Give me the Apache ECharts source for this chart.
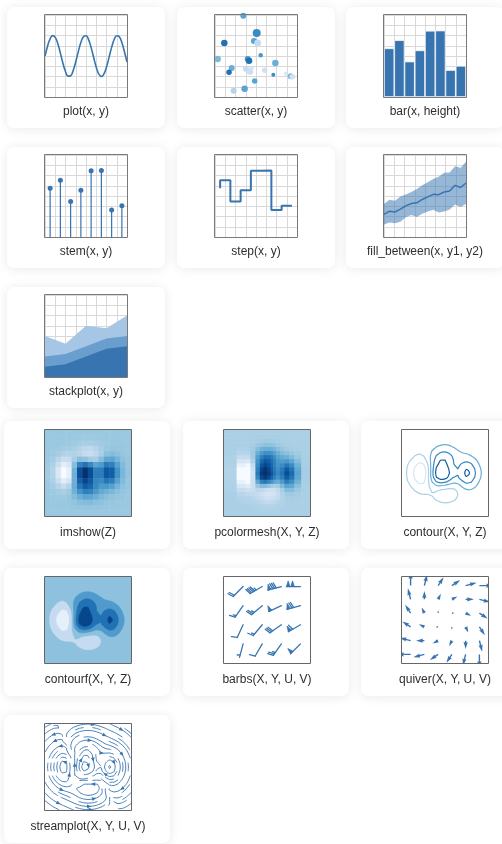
<!DOCTYPE html>
<html>
<head>
<meta charset="utf-8">
<title>plot types</title>
<script src="https://cdn.jsdelivr.net/npm/echarts@6/dist/echarts.min.js"></script>
<style>
  html, body { margin: 0; padding: 0; background: #fff; }
  #main { width: 502px; height: 844px; }
</style>
</head>
<body>
<div id="main"></div>
<script>
var lineX = [0, 0.25, 0.5, 0.75, 1, 1.25, 1.5, 1.75, 2, 2.25, 2.5, 2.75, 3, 3.25, 3.5, 3.75, 4,
  4.25, 4.5, 4.75, 5, 5.25, 5.5, 5.75, 6, 6.25, 6.5, 6.75, 7, 7.25, 7.5, 7.75, 8];
var lineY = [4.00, 4.96, 5.68, 5.99, 5.82, 5.20, 4.28, 3.30, 2.49, 2.04, 2.08, 2.59, 3.44, 4.43, 5.31, 5.88, 5.98,
  5.60, 4.82, 3.85, 2.91, 2.24, 2.00, 2.25, 2.93, 3.87, 4.84, 5.61, 5.98, 5.87, 5.30, 4.41, 3.42];

var scatterX = [2.76, 4.07, 0.91, 3.80, 4.16, 4.46, 0.26, 3.19, 3.32, 5.89, 1.63, 1.37, 3.02, 3.41, 3.58, 4.85, 5.69, 6.89, 7.38, 7.54, 3.87, 2.89, 1.82];
var scatterY = [7.93, 6.24, 5.27, 5.46, 5.27, 4.07, 3.71, 3.71, 3.54, 3.32, 2.83, 2.41, 2.76, 2.50, 2.83, 2.60, 2.18, 2.28, 2.02, 1.98, 1.56, 0.81, 0.62];
var scatterSize = [6, 8, 6.5, 6, 7, 4.5, 6.5, 6, 6.5, 6.5, 6, 5.5, 6, 6.5, 4, 5.5, 4, 4, 6, 5.5, 5.5, 6.5, 6];
var scatterShade = [55, 65, 75, 55, 25, 60, 45, 60, 75, 50, 50, 75, 25, 22, 18, 20, 65, 15, 45, 20, 55, 55, 30];

var barLabels = ['0.5', '1.5', '2.5', '3.5', '4.5', '5.5', '6.5', '7.5'];
var barHeight = [4.75, 5.54, 3.46, 4.55, 6.46, 6.48, 2.63, 3.04];

var fillX = [0, 0.53, 1.07, 1.6, 2.13, 2.67, 3.2, 3.73, 4.27, 4.8, 5.33, 5.87, 6.4, 6.93, 7.47, 8];
var fillUpper = [3.21, 3.63, 3.53, 3.95, 4.14, 4.38, 4.69, 5.04, 5.33, 5.67, 5.88, 6.28, 6.30, 6.91, 6.75, 7.34];
var fillLower = [1.21, 1.41, 1.34, 1.50, 1.93, 2.15, 1.96, 2.28, 2.50, 2.65, 2.38, 2.49, 2.68, 3.17, 2.92, 3.21];
var fillMid = [2.21, 2.52, 2.44, 2.72, 3.04, 3.27, 3.33, 3.66, 3.92, 4.16, 4.13, 4.39, 4.49, 5.04, 4.83, 5.27];

var stackX = [0, 2, 4, 6, 8];
var stackA = [1, 1.25, 2, 2.75, 3];
var stackB = [1, 1, 1, 1, 1];
var stackC = [2, 1, 2, 1, 2];

// imshow: 16 x 16 image, first row drawn at the top
var imshowTicks = ['-3.0', '-2.6', '-2.2', '-1.8', '-1.4', '-1.0', '-0.6', '-0.2', '0.2', '0.6', '1.0', '1.4', '1.8', '2.2', '2.6', '3.0'];
var imshowZ = [
  [0, 0, 0, 0, 0, 0, 0, 0, 0, 0, 0, 0, 0, 0, 0, 0],
  [0, 0, 0, 0, 0, -0.01, -0.01, -0.02, -0.02, -0.01, -0.01, 0, 0, 0, 0, 0],
  [0, 0, 0, -0.01, -0.02, -0.03, -0.05, -0.07, -0.07, -0.05, -0.03, -0.01, 0, 0, 0, 0],
  [0, -0.01, -0.02, -0.04, -0.05, -0.08, -0.13, -0.18, -0.19, -0.14, -0.06, 0, 0.02, 0.01, 0.01, 0],
  [0, -0.02, -0.06, -0.11, -0.13, -0.12, -0.15, -0.22, -0.25, -0.19, -0.07, 0.06, 0.09, 0.05, 0.02, 0],
  [-0.01, -0.05, -0.15, -0.26, -0.24, -0.07, 0.06, 0.04, -0.04, -0.06, 0.07, 0.24, 0.26, 0.15, 0.05, 0.01],
  [-0.02, -0.09, -0.27, -0.47, -0.38, 0.07, 0.49, 0.59, 0.46, 0.27, 0.33, 0.54, 0.51, 0.28, 0.10, 0.02],
  [-0.03, -0.13, -0.38, -0.64, -0.50, 0.17, 0.81, 1.01, 0.82, 0.52, 0.53, 0.77, 0.72, 0.39, 0.13, 0.03],
  [-0.03, -0.13, -0.38, -0.64, -0.50, 0.18, 0.82, 1.02, 0.84, 0.53, 0.53, 0.77, 0.72, 0.39, 0.13, 0.03],
  [-0.02, -0.09, -0.27, -0.46, -0.34, 0.18, 0.70, 0.88, 0.75, 0.48, 0.44, 0.58, 0.53, 0.29, 0.10, 0.02],
  [-0.01, -0.05, -0.14, -0.23, -0.14, 0.20, 0.57, 0.74, 0.67, 0.46, 0.34, 0.35, 0.29, 0.15, 0.05, 0.01],
  [0, -0.02, -0.05, -0.08, -0.02, 0.17, 0.39, 0.52, 0.49, 0.35, 0.22, 0.17, 0.12, 0.06, 0.02, 0],
  [0, -0.01, -0.01, -0.02, 0.01, 0.09, 0.19, 0.26, 0.25, 0.18, 0.11, 0.06, 0.04, 0.02, 0.01, 0],
  [0, 0, 0, 0, 0.01, 0.03, 0.07, 0.09, 0.09, 0.06, 0.04, 0.02, 0.01, 0, 0, 0],
  [0, 0, 0, 0, 0, 0.01, 0.02, 0.02, 0.02, 0.02, 0.01, 0, 0, 0, 0, 0],
  [0, 0, 0, 0, 0, 0, 0, 0, 0, 0, 0, 0, 0, 0, 0, 0]
];

// pcolormesh: uneven columns, rows bottom to top
var meshXCenters = [-3, -2, -1.6, -1.2, -0.8, -0.5, -0.2, 0.1, 0.3, 0.5, 0.8, 1.1, 1.5, 1.9, 2.3, 3];
var meshYCenters = [-3, -2.7, -2.4, -2.1, -1.8, -1.5, -1.2, -0.9, -0.6, -0.3, 0, 0.3, 0.6, 0.9, 1.2, 1.5, 1.8, 2.1, 2.4, 2.7, 3];
var meshZ = [
  [0, 0, 0, 0, 0, 0, 0, 0, 0, 0, 0, 0, 0, 0, 0, 0],
  [0, 0, 0, 0, -0.01, -0.01, -0.01, -0.01, -0.01, -0.01, -0.01, 0, 0, 0, 0, 0],
  [0, 0, 0, -0.01, -0.02, -0.03, -0.04, -0.04, -0.04, -0.03, -0.02, -0.01, 0, 0, 0, 0],
  [0, -0.01, -0.02, -0.03, -0.05, -0.08, -0.10, -0.10, -0.09, -0.08, -0.05, -0.03, 0, 0.01, 0, 0],
  [0, -0.03, -0.04, -0.06, -0.10, -0.14, -0.18, -0.19, -0.18, -0.15, -0.10, -0.04, 0.01, 0.02, 0.01, 0],
  [0, -0.06, -0.10, -0.11, -0.13, -0.18, -0.23, -0.25, -0.24, -0.21, -0.14, -0.04, 0.05, 0.06, 0.03, 0],
  [-0.01, -0.14, -0.19, -0.15, -0.08, -0.09, -0.14, -0.18, -0.19, -0.17, -0.10, 0.02, 0.15, 0.15, 0.07, 0.01],
  [-0.01, -0.25, -0.32, -0.17, 0.08, 0.17, 0.16, 0.10, 0.05, 0.02, 0.05, 0.18, 0.33, 0.29, 0.14, 0.01],
  [-0.02, -0.39, -0.48, -0.18, 0.31, 0.54, 0.59, 0.51, 0.41, 0.31, 0.26, 0.38, 0.56, 0.46, 0.23, 0.02],
  [-0.03, -0.50, -0.62, -0.20, 0.50, 0.85, 0.94, 0.84, 0.69, 0.54, 0.43, 0.55, 0.75, 0.61, 0.30, 0.03],
  [-0.03, -0.55, -0.67, -0.21, 0.57, 0.95, 1.06, 0.94, 0.78, 0.61, 0.49, 0.61, 0.83, 0.67, 0.32, 0.03],
  [-0.03, -0.50, -0.61, -0.19, 0.53, 0.89, 0.99, 0.88, 0.73, 0.58, 0.46, 0.57, 0.76, 0.61, 0.30, 0.03],
  [-0.02, -0.38, -0.46, -0.11, 0.47, 0.78, 0.88, 0.81, 0.68, 0.54, 0.42, 0.47, 0.59, 0.47, 0.23, 0.02],
  [-0.01, -0.24, -0.27, -0.02, 0.42, 0.67, 0.78, 0.74, 0.64, 0.52, 0.39, 0.37, 0.40, 0.31, 0.15, 0.01],
  [-0.01, -0.12, -0.13, 0.05, 0.35, 0.54, 0.64, 0.63, 0.56, 0.46, 0.33, 0.27, 0.24, 0.17, 0.08, 0.01],
  [0, -0.05, -0.04, 0.06, 0.25, 0.38, 0.45, 0.45, 0.41, 0.34, 0.24, 0.17, 0.12, 0.08, 0.04, 0],
  [0, -0.02, -0.01, 0.05, 0.14, 0.22, 0.26, 0.26, 0.24, 0.20, 0.14, 0.09, 0.06, 0.03, 0.01, 0],
  [0, 0, 0, 0.02, 0.07, 0.10, 0.12, 0.12, 0.11, 0.10, 0.07, 0.04, 0.02, 0.01, 0, 0],
  [0, 0, 0, 0.01, 0.02, 0.04, 0.05, 0.05, 0.04, 0.04, 0.02, 0.02, 0.01, 0, 0, 0],
  [0, 0, 0, 0, 0.01, 0.01, 0.01, 0.01, 0.01, 0.01, 0.01, 0, 0, 0, 0, 0],
  [0, 0, 0, 0, 0, 0, 0, 0, 0, 0, 0, 0, 0, 0, 0, 0]
];

// field behind contour / contourf / streamplot, rows bottom to top
var fieldAxis = [-3, -2.7, -2.4, -2.1, -1.8, -1.5, -1.2, -0.9, -0.6, -0.3, 0, 0.3, 0.6, 0.9, 1.2, 1.5, 1.8, 2.1, 2.4, 2.7, 3];
var fieldZ = [
  [-4.07e-6, -1.42e-5, -4.06e-5, -9.87e-5, -2.13e-4, -4.27e-4, -8.15e-4, -1.43e-3, -2.22e-3, -2.91e-3, -3.21e-3, -2.95e-3, -2.26e-3, -1.42e-3, -7.05e-4, -2.49e-4, -3.86e-5, 2.07e-5, 2.04e-5, 9.8e-6, 3.28e-6],
  [-2.2e-5, -7.5e-5, -2.09e-4, -4.85e-4, -9.81e-4, -1.84e-3, -3.33e-3, -5.72e-3, -8.79e-3, -1.157e-2, -1.276e-2, -1.175e-2, -9.01e-3, -5.63e-3, -2.72e-3, -8.52e-4, -1.81e-5, 1.75e-4, 1.29e-4, 5.76e-5, 1.87e-5],
  [-9.9e-5, -3.33e-4, -9.05e-4, -2.01e-3, -3.80e-3, -6.53e-3, -1.097e-2, -1.815e-2, -2.766e-2, -3.645e-2, -4.035e-2, -3.730e-2, -2.864e-2, -1.776e-2, -8.15e-3, -1.98e-3, 6.40e-4, 1.03e-3, 6.51e-4, 2.78e-4, 8.9e-5],
  [-3.75e-4, -1.248e-3, -3.318e-3, -7.093e-3, -1.2494e-2, -1.9342e-2, -2.921e-2, -4.541e-2, -6.813e-2, -9.007e-2, -0.10035, -9.335e-2, -7.190e-2, -4.389e-2, -1.834e-2, -1.813e-3, 4.634e-3, 4.655e-3, 2.686e-3, 1.112e-3, 3.50e-4],
  [-1.191e-3, -3.931e-3, -1.0271e-2, -2.1231e-2, -3.5013e-2, -4.8196e-2, -6.2347e-2, -8.664e-2, -0.125967, -0.167664, -0.18924, -0.178229, -0.138099, -8.1745e-2, -2.7315e-2, 8.301e-3, 2.0191e-2, 1.6633e-2, 9.078e-3, 3.674e-3, 1.1435e-3],
  [-3.172e-3, -1.0404e-2, -2.6828e-2, -5.3997e-2, -8.4094e-2, -0.102417, -0.106441, -0.117946, -0.158307, -0.214537, -0.2503, -0.242974, -0.19096, -0.104771, -0.01215, 4.9643e-2, 6.4489e-2, 4.7914e-2, 2.5251e-2, 1.0065e-2, 3.1097e-3],
  [-0.00708, -0.02312, -0.05907, -0.11663, -0.174, -0.189, -0.147, -0.092, -0.084, -0.126, -0.173, -0.190, -0.157, -0.062, 0.065, 0.153, 0.160, 0.11243, 0.05798, 0.02289, 0.00704],
  [-0.013245, -0.04311, -0.110, -0.214, -0.309, -0.308, -0.170, 0.026, 0.153, 0.170, 0.121, 0.050, 0.015, 0.081, 0.228, 0.334, 0.318, 0.217, 0.110, 0.04329, 0.013271],
  [-0.020727, -0.067, -0.171, -0.331, -0.470, -0.446, -0.183, 0.200, 0.490, 0.594, 0.547, 0.406, 0.274, 0.287, 0.442, 0.561, 0.513, 0.344, 0.174, 0.068, 0.020856],
  [-0.027128, -0.088, -0.223, -0.431, -0.609, -0.566, -0.198, 0.339, 0.762, 0.936, 0.889, 0.689, 0.479, 0.453, 0.619, 0.753, 0.679, 0.453, 0.229, 0.089, 0.027344],
  [-0.02968, -0.096, -0.244, -0.471, -0.666, -0.616, -0.210, 0.382, 0.853, 1.049, 1.000, 0.779, 0.543, 0.507, 0.684, 0.827, 0.744, 0.496, 0.250, 0.098, 0.02992],
  [-0.027122, -0.088, -0.223, -0.430, -0.607, -0.560, -0.186, 0.361, 0.796, 0.981, 0.939, 0.735, 0.513, 0.475, 0.631, 0.758, 0.681, 0.453, 0.229, 0.089, 0.027347],
  [-0.02069, -0.067, -0.170, -0.327, -0.459, -0.414, -0.111, 0.334, 0.700, 0.870, 0.848, 0.681, 0.484, 0.421, 0.513, 0.593, 0.525, 0.348, 0.175, 0.068, 0.020894],
  [-0.013165, -0.043, -0.108, -0.206, -0.284, -0.240, -0.017, 0.314, 0.606, 0.763, 0.769, 0.643, 0.468, 0.370, 0.381, 0.402, 0.344, 0.224, 0.112, 0.044, 0.013351],
  [-0.00698, -0.023, -0.057, -0.107, -0.142, -0.103, 0.047, 0.273, 0.488, 0.623, 0.646, 0.559, 0.414, 0.302, 0.259, 0.239, 0.192, 0.122, 0.061, 0.024, 0.007139],
  [-3.084e-3, -9.918e-3, -2.4587e-2, -4.5353e-2, -5.6236e-2, -2.7435e-2, 6.2089e-2, 0.198556, 0.338035, 0.435625, 0.4611, 0.407188, 0.305382, 0.211731, 0.15638, 0.124625, 9.2347e-2, 5.6558e-2, 2.7492e-2, 1.0551e-2, 3.1975e-3],
  [-1.134e-3, -3.619e-3, -8.83e-3, -1.568e-2, -1.7125e-2, -5.0e-5, 4.587e-2, 0.11659, 0.19274, 0.24981, 0.26756, 0.23924, 0.18061, 0.12149, 8.09e-2, 5.645e-2, 3.808e-2, 2.218e-2, 1.052e-2, 3.986e-3, 1.2e-3],
  [-3.47e-4, -1.095e-3, -2.609e-3, -4.359e-3, -3.683e-3, 4.373e-3, 2.4095e-2, 5.470e-2, 8.885e-2, 0.11556, 0.12465, 0.11228, 8.509e-2, 5.622e-2, 3.496e-2, 2.190e-2, 1.3446e-2, 7.388e-3, 3.394e-3, 1.265e-3, 3.77e-4],
  [-8.8e-5, -2.74e-4, -6.31e-4, -9.56e-4, -3.94e-4, 2.64e-3, 9.64e-3, 2.056e-2, 3.304e-2, 4.306e-2, 4.665e-2, 4.221e-2, 3.206e-2, 2.095e-2, 1.246e-2, 7.19e-3, 4.05e-3, 2.09e-3, 9.25e-4, 3.38e-4, 9.96e-5],
  [-1.86e-5, -5.66e-5, -1.24e-4, -1.59e-4, 7.2e-5, 9.96e-4, 3.04e-3, 6.24e-3, 9.96e-3, 1.300e-2, 1.412e-2, 1.282e-2, 9.75e-3, 6.33e-3, 3.65e-3, 1.98e-3, 1.03e-3, 5.02e-4, 2.13e-4, 7.6e-5, 2.21e-5],
  [-3.25e-6, -9.6e-6, -1.96e-5, -1.77e-5, 4.83e-5, 2.75e-4, 7.63e-4, 1.53e-3, 2.43e-3, 3.17e-3, 3.45e-3, 3.14e-3, 2.39e-3, 1.54e-3, 8.73e-4, 4.53e-4, 2.22e-4, 1.02e-4, 4.14e-5, 1.44e-5, 4.1e-6]
];
var contourLevels = [-0.69, -0.3983, -0.1067, 0.185, 0.4767, 0.7683, 1.06];
var streamLevels = [-0.5505, -0.4005, -0.2505, -0.1305, -0.0605, -0.0255, -0.01005, -0.00355, -0.001205,
  -4.05e-4, -1.305e-4, -4.05e-5, -1.305e-5,
  1.305e-5, 4.05e-5, 1.305e-4, 4.05e-4, 0.001205, 0.00355, 0.01005, 0.0255, 0.0605, 0.1205,
  0.2205, 0.3505, 0.5005, 0.6505, 0.8005, 0.9505];

var barbPos = [1, 2, 3, 4];
var barbAngle = [[15, 30, 35, 45], [25, 40, 55, 60], [35, 50, 65, 75], [45, 60, 75, 90]];
var barbSpeed = [[5, 10, 25, 50], [10, 15, 30, 60], [15, 26, 50, 70], [20, 45, 80, 100]];

var quiverPos = [-4, -2.4, -0.8, 0.8, 2.4, 4];
var quiverU = [
  [-8, -6.4, -4.8, -3.2, -1.6, 0],
  [-6.4, -4.8, -3.2, -1.6, 0, 1.6],
  [-4.8, -3.2, -1.6, 0, 1.6, 3.2],
  [-3.2, -1.6, 0, 1.6, 3.2, 4.8],
  [-1.6, 0, 1.6, 3.2, 4.8, 6.4],
  [0, 1.6, 3.2, 4.8, 6.4, 8]
];
var quiverV = [
  [0, -1.6, -3.2, -4.8, -6.4, -8],
  [1.6, 0, -1.6, -3.2, -4.8, -6.4],
  [3.2, 1.6, 0, -1.6, -3.2, -4.8],
  [4.8, 3.2, 1.6, 0, -1.6, -3.2],
  [6.4, 4.8, 3.2, 1.6, 0, -1.6],
  [8, 6.4, 4.8, 3.2, 1.6, 0]
];
var quiverScale = 5;

// ---- styling ----
var C0 = '#3874b0', C1 = '#6a9ecf', C2 = '#a6c6e5';
var BLUES = ['#f7fbff', '#deebf7', '#c6dbef', '#9ecae1', '#6baed6', '#4292c6', '#2171b5', '#08519c', '#08306b'];
var LABEL_FONT = '12px "Liberation Sans", Arial, sans-serif';

var cardsSmall = [[7, 7], [177, 7], [346, 7], [7, 147], [177, 147], [346, 147], [7, 287]];
var cardsBig = [[4, 421], [183, 421], [361, 421], [4, 568], [183, 568], [361, 568], [4, 715]];

function hexRgb(h) { var n = parseInt(h.slice(1), 16); return [(n >> 16) & 255, (n >> 8) & 255, n & 255]; }
function bluesAt(t) {
  t = Math.max(0, Math.min(1, t));
  var p = t * (BLUES.length - 1), i = Math.min(BLUES.length - 2, Math.floor(p)), f = p - i;
  var a = hexRgb(BLUES[i]), b = hexRgb(BLUES[i + 1]);
  return 'rgb(' + [0, 1, 2].map(function (k) { return Math.round(a[k] + (b[k] - a[k]) * f); }).join(',') + ')';
}

var option = {
  animation: false,
  backgroundColor: '#ffffff',
  grid: [], xAxis: [], yAxis: [], series: [], visualMap: [],
  graphic: { elements: [] }
};
var G = option.graphic.elements;

function panel(card, big, label, gridExtra) {
  var cw = big ? 166 : 158, ch = big ? 128 : 121;
  var ox = big ? 41 : 38, oy = big ? 9 : 8, size = big ? 86 : 82, ly = big ? 112 : 105;
  var gx = card[0] + ox, gy = card[1] + oy;
  G.push({ type: 'rect', silent: true, z: -5,
    shape: { x: card[0], y: card[1], width: cw, height: ch, r: 7 },
    style: { fill: '#fff', shadowBlur: 12, shadowColor: 'rgba(0,0,0,0.09)', shadowOffsetY: 1 } });
  G.push({ type: 'rect', silent: true, z: 60,
    shape: { x: gx - 0.5, y: gy - 0.5, width: size + 1, height: size + 1 },
    style: { fill: 'none', stroke: big ? '#666' : '#7a7a7a', lineWidth: 1 } });
  G.push({ type: 'text', silent: true, z: 60, x: gx + size / 2, y: card[1] + ly,
    style: { text: label, fill: '#2e2e2e', font: LABEL_FONT,
      align: 'center', verticalAlign: 'middle', textAlign: 'center', textVerticalAlign: 'middle' } });
  var g = { left: gx, top: gy, width: size, height: size };
  if (gridExtra) for (var k in gridExtra) g[k] = gridExtra[k];
  option.grid.push(g);
  return option.grid.length - 1;
}

function valueAxis(gi, min, max, step) {
  var a = { type: 'value', gridIndex: gi, min: min, max: max,
    axisLine: { show: false }, axisTick: { show: false }, axisLabel: { show: false },
    splitLine: { show: !!step, lineStyle: { color: '#d9d9d9', width: 1 } } };
  if (step) a.interval = step;
  return a;
}
function categoryAxis(gi, data, inverse, split) {
  return { type: 'category', gridIndex: gi, data: data, inverse: !!inverse,
    axisLine: { show: false }, axisTick: { show: false }, axisLabel: { show: false },
    splitLine: { show: !!split, interval: 0, lineStyle: { color: '#d9d9d9', width: 1 } } };
}
function addAxes(xa, ya) { option.xAxis.push(xa); option.yAxis.push(ya); }
function addSeries(s, gi) {
  s.xAxisIndex = gi; s.yAxisIndex = gi; s.silent = true;
  option.series.push(s);
  return option.series.length - 1;
}

// marching squares over a field; segments keep larger values on their right
function traceContours(z, xs, ys, level) {
  var segs = [];
  var ends = [[0, 1], [1, 2], [3, 2], [0, 3]];
  function shared(e1, e2) {
    var a = Math.min(e1, e2), b = Math.max(e1, e2);
    if (a === 0 && b === 1) return 1;
    if (a === 1 && b === 2) return 2;
    if (a === 2 && b === 3) return 3;
    return 0;
  }
  for (var j = 0; j < ys.length - 1; j++) {
    for (var i = 0; i < xs.length - 1; i++) {
      var cs = [[i, j], [i + 1, j], [i + 1, j + 1], [i, j + 1]];
      var up = cs.map(function (c) { return z[c[1]][c[0]] > level; });
      var keys = ['h' + i + '_' + j, 'v' + (i + 1) + '_' + j, 'h' + i + '_' + (j + 1), 'v' + i + '_' + j];
      var hit = [];
      for (var e = 0; e < 4; e++) if (up[ends[e][0]] !== up[ends[e][1]]) hit.push(e);
      var pairs = [];
      if (hit.length === 2) pairs.push(hit);
      else if (hit.length === 4) {
        var mean = (z[j][i] + z[j][i + 1] + z[j + 1][i + 1] + z[j + 1][i]) / 4;
        if ((mean > level) === up[0]) { pairs.push([0, 1]); pairs.push([2, 3]); }
        else { pairs.push([3, 0]); pairs.push([1, 2]); }
      }
      pairs.forEach(function (pr) {
        var pts = pr.map(function (e) {
          var ca = cs[ends[e][0]], cb = cs[ends[e][1]];
          var za = z[ca[1]][ca[0]], zb = z[cb[1]][cb[0]], t = (level - za) / (zb - za);
          return [xs[ca[0]] + t * (xs[cb[0]] - xs[ca[0]]), ys[ca[1]] + t * (ys[cb[1]] - ys[ca[1]])];
        });
        var ci = shared(pr[0], pr[1]), rc = cs[ci];
        var cr = (pts[1][0] - pts[0][0]) * (ys[rc[1]] - pts[0][1]) - (pts[1][1] - pts[0][1]) * (xs[rc[0]] - pts[0][0]);
        var seg = { ka: keys[pr[0]], kb: keys[pr[1]], pa: pts[0], pb: pts[1] };
        if ((up[ci] && cr > 0) || (!up[ci] && cr < 0)) seg = { ka: keys[pr[1]], kb: keys[pr[0]], pa: pts[1], pb: pts[0] };
        segs.push(seg);
      });
    }
  }
  var byStart = {}, byEnd = {};
  segs.forEach(function (s, k) { byStart[s.ka] = k; byEnd[s.kb] = k; });
  var used = [], paths = [];
  for (var k = 0; k < segs.length; k++) {
    if (used[k]) continue;
    var s0 = k, guard = 0;
    while (guard++ < segs.length) {
      var p = byEnd[segs[s0].ka];
      if (p === undefined || used[p] || p === k) break;
      s0 = p;
    }
    var pts = [segs[s0].pa], cur = s0, closed = false;
    while (cur !== undefined && !used[cur]) {
      used[cur] = true;
      pts.push(segs[cur].pb);
      cur = byStart[segs[cur].kb];
      if (cur === s0) { closed = true; break; }
    }
    paths.push({ pts: pts, closed: closed });
  }
  return paths;
}

function pathShape(api, path, fill, stroke, lw, z2) {
  var pts = path.pts.map(function (p) { return api.coord(p); });
  if (path.closed) {
    pts.pop();
    return { type: 'polygon', z2: z2 || 0, shape: { points: pts, smooth: 0.35 },
      style: { fill: fill || 'none', stroke: stroke || 'none', lineWidth: lw || 0 } };
  }
  return { type: 'polyline', z2: z2 || 0, shape: { points: pts, smooth: 0.35 },
    style: { fill: 'none', stroke: stroke, lineWidth: lw } };
}

var g;

// plot(x, y)
g = panel(cardsSmall[0], false, 'plot(x, y)');
addAxes(valueAxis(g, 0, 8, 1), valueAxis(g, 0, 8, 1));
addSeries({ type: 'line', data: lineX.map(function (x, i) { return [x, lineY[i]]; }),
  smooth: true, symbol: 'none', lineStyle: { color: C0, width: 1.6 } }, g);

// scatter(x, y)
g = panel(cardsSmall[1], false, 'scatter(x, y)');
addAxes(valueAxis(g, 0, 8, 1), valueAxis(g, 0, 8, 1));
var scatterIdx = addSeries({ type: 'scatter',
  data: scatterX.map(function (x, i) { return [x, scatterY[i], scatterSize[i], scatterShade[i]]; }),
  symbolSize: function (v) { return v[2]; }, itemStyle: { opacity: 1 } }, g);
option.visualMap.push({ type: 'continuous', show: false, seriesIndex: scatterIdx, dimension: 3,
  min: 0, max: 100, inRange: { color: BLUES } });

// bar(x, height)
g = panel(cardsSmall[2], false, 'bar(x, height)');
addAxes(categoryAxis(g, barLabels, false, true), valueAxis(g, 0, 8, 1));
addSeries({ type: 'bar', data: barHeight, barCategoryGap: '0%',
  itemStyle: { color: C0, borderColor: '#ffffff', borderWidth: 0.7 } }, g);

// stem(x, y)
g = panel(cardsSmall[3], false, 'stem(x, y)');
addAxes(categoryAxis(g, barLabels, false, true), valueAxis(g, 0, 8, 1));
addSeries({ type: 'bar', data: barHeight, barWidth: 1.2, itemStyle: { color: C0 } }, g);
addSeries({ type: 'scatter', data: barHeight, symbolSize: 5, itemStyle: { color: C0, opacity: 1 } }, g);

// step(x, y)
g = panel(cardsSmall[4], false, 'step(x, y)');
addAxes(categoryAxis(g, barLabels, false, true), valueAxis(g, 0, 8, 1));
addSeries({ type: 'line', data: barHeight, step: 'start', symbol: 'none',
  lineStyle: { color: C0, width: 2 } }, g);

// fill_between(x, y1, y2)
g = panel(cardsSmall[5], false, 'fill_between(x, y1, y2)');
addAxes(valueAxis(g, 0, 8, 1), valueAxis(g, 0, 8, 1));
addSeries({ type: 'custom', clip: true, data: [[fillX[0], fillLower[0]]],
  renderItem: function (params, api) {
    var pts = [];
    for (var i = 0; i < fillX.length; i++) pts.push(api.coord([fillX[i], fillUpper[i]]));
    for (var k = fillX.length - 1; k >= 0; k--) pts.push(api.coord([fillX[k], fillLower[k]]));
    return { type: 'polygon', shape: { points: pts }, style: { fill: 'rgba(56,116,176,0.52)' } };
  } }, g);
addSeries({ type: 'line', data: fillX.map(function (x, i) { return [x, fillMid[i]]; }),
  symbol: 'none', lineStyle: { color: C0, width: 1.5 } }, g);

// stackplot(x, y): running totals, drawn from the top layer down
g = panel(cardsSmall[6], false, 'stackplot(x, y)');
addAxes(valueAxis(g, 0, 8, 1), valueAxis(g, 0, 8, 1));
var totA = stackA.slice();
var totB = totA.map(function (v, i) { return v + stackB[i]; });
var totC = totB.map(function (v, i) { return v + stackC[i]; });
[[totC, C2], [totB, C1], [totA, C0]].forEach(function (layer) {
  addSeries({ type: 'line', symbol: 'none',
    data: stackX.map(function (x, i) { return [x, layer[0][i]]; }),
    lineStyle: { width: 0 }, areaStyle: { color: layer[1], opacity: 1 } }, g);
});

// imshow(Z)
g = panel(cardsBig[0], true, 'imshow(Z)');
addAxes(categoryAxis(g, imshowTicks, false, false), categoryAxis(g, imshowTicks, true, false));
var heat = [], imMin = Infinity, imMax = -Infinity;
imshowZ.forEach(function (row, j) {
  row.forEach(function (v, i) { heat.push([i, j, v]); imMin = Math.min(imMin, v); imMax = Math.max(imMax, v); });
});
var heatIdx = addSeries({ type: 'heatmap', data: heat, itemStyle: { borderWidth: 0 } }, g);
option.visualMap.push({ type: 'continuous', show: false, seriesIndex: heatIdx, dimension: 2,
  min: imMin, max: imMax, inRange: { color: BLUES } });

// pcolormesh(X, Y, Z)
function edgesOf(c) {
  var e = [c[0] - (c[1] - c[0]) / 2];
  for (var i = 1; i < c.length; i++) e.push((c[i - 1] + c[i]) / 2);
  e.push(c[c.length - 1] + (c[c.length - 1] - c[c.length - 2]) / 2);
  return e;
}
var meshXE = edgesOf(meshXCenters), meshYE = edgesOf(meshYCenters);
g = panel(cardsBig[1], true, 'pcolormesh(X, Y, Z)');
addAxes(valueAxis(g, meshXE[0], meshXE[meshXE.length - 1]), valueAxis(g, meshYE[0], meshYE[meshYE.length - 1]));
var meshData = [];
meshZ.forEach(function (row, j) {
  row.forEach(function (v, i) { meshData.push([meshXE[i], meshXE[i + 1], meshYE[j], meshYE[j + 1], v]); });
});
var meshIdx = addSeries({ type: 'custom', clip: true, data: meshData, encode: { x: [0, 1], y: [2, 3] },
  renderItem: function (params, api) {
    var a = api.coord([api.value(0), api.value(3)]), b = api.coord([api.value(1), api.value(2)]);
    return { type: 'rect', shape: { x: a[0], y: a[1], width: b[0] - a[0] + 0.6, height: b[1] - a[1] + 0.6 },
      style: { fill: api.visual('color') } };
  } }, g);
option.visualMap.push({ type: 'continuous', show: false, seriesIndex: meshIdx, dimension: 4,
  min: -0.5, max: 1.0, inRange: { color: BLUES } });

// contour(X, Y, Z)
var nLv = contourLevels.length - 1;
var contourPaths = [];
contourLevels.forEach(function (lv, k) {
  traceContours(fieldZ, fieldAxis, fieldAxis, lv).forEach(function (p) {
    contourPaths.push({ pts: p.pts, closed: p.closed, color: bluesAt(k / nLv) });
  });
});
g = panel(cardsBig[2], true, 'contour(X, Y, Z)');
addAxes(valueAxis(g, -3, 3), valueAxis(g, -3, 3));
addSeries({ type: 'custom', clip: true,
  data: contourPaths.map(function (p) { return p.pts[0]; }),
  renderItem: function (params, api) {
    var p = contourPaths[params.dataIndex];
    return pathShape(api, p, null, p.color, 1.2);
  } }, g);

// contourf(X, Y, Z)
function bandColor(k) { return bluesAt((k + 0.5) / nLv); }
var fillPaths = [];
[3, 4, 5].forEach(function (k) {
  traceContours(fieldZ, fieldAxis, fieldAxis, contourLevels[k]).forEach(function (p) {
    if (p.closed) fillPaths.push({ pts: p.pts, closed: true, color: bandColor(k) });
  });
});
[2, 1].forEach(function (k) {
  traceContours(fieldZ, fieldAxis, fieldAxis, contourLevels[k]).forEach(function (p) {
    if (p.closed) fillPaths.push({ pts: p.pts, closed: true, color: bandColor(k - 1) });
  });
});
g = panel(cardsBig[3], true, 'contourf(X, Y, Z)', { show: true, backgroundColor: bandColor(2), borderWidth: 0 });
addAxes(valueAxis(g, -3, 3), valueAxis(g, -3, 3));
addSeries({ type: 'custom', clip: true,
  data: fillPaths.map(function (p) { return p.pts[0]; }),
  renderItem: function (params, api) {
    var p = fillPaths[params.dataIndex];
    return pathShape(api, p, p.color, p.color, 0.5, params.dataIndex);
  } }, g);

// barbs(X, Y, U, V)
var barbData = [];
barbSpeed.forEach(function (row, j) {
  row.forEach(function (s, i) { barbData.push([barbPos[i], barbPos[j], barbAngle[j][i], s]); });
});
g = panel(cardsBig[4], true, 'barbs(X, Y, U, V)');
addAxes(valueAxis(g, 0, 4.5), valueAxis(g, 0, 4.5));
addSeries({ type: 'custom', clip: true, data: barbData,
  renderItem: function (params, api) {
    var p = api.coord([api.value(0), api.value(1)]);
    var a = api.value(2) * Math.PI / 180, ux = Math.sin(a), uy = Math.cos(a);
    var ey = [-ux, uy], ex = [-uy, -ux];
    function P(lx, ly) { return [p[0] + ex[0] * lx + ey[0] * ly, p[1] + ex[1] * lx + ey[1] * ly]; }
    var L = 14, fh = 0.4 * L, fw = 0.25 * L, sp = 0.125 * L;
    var spd = Math.round(api.value(3) / 5) * 5;
    var nFlag = Math.floor(spd / 50), rest = spd - nFlag * 50;
    var nBarb = Math.floor(rest / 10), half = rest - nBarb * 10 >= 5;
    var st = { stroke: C0, lineWidth: 1.3, lineCap: 'round', lineJoin: 'round' };
    var kids = [], tip = P(0, L), pos = L;
    kids.push({ type: 'line', shape: { x1: p[0], y1: p[1], x2: tip[0], y2: tip[1] }, style: st });
    for (var f = 0; f < nFlag; f++) {
      if (f > 0) pos += sp / 2;
      kids.push({ type: 'polygon', shape: { points: [P(0, pos), P(fh, pos - fw / 2), P(0, pos - fw)] },
        style: { fill: C0, stroke: C0, lineWidth: 0.8 } });
      pos -= fw + sp;
    }
    for (var b = 0; b < nBarb; b++) {
      var q0 = P(0, pos), q1 = P(fh, pos + fw / 2);
      kids.push({ type: 'line', shape: { x1: q0[0], y1: q0[1], x2: q1[0], y2: q1[1] }, style: st });
      pos -= sp;
    }
    if (half) {
      if (pos === L) pos -= 1.5 * sp;
      var h0 = P(0, pos), h1 = P(fh / 2, pos + fw / 4);
      kids.push({ type: 'line', shape: { x1: h0[0], y1: h0[1], x2: h1[0], y2: h1[1] }, style: st });
    }
    return { type: 'group', children: kids };
  } }, g);

// quiver(X, Y, U, V)
var quiverData = [];
quiverU.forEach(function (row, j) {
  row.forEach(function (u, i) { quiverData.push([quiverPos[i], quiverPos[j], u, quiverV[j][i]]); });
});
g = panel(cardsBig[5], true, 'quiver(X, Y, U, V)');
addAxes(valueAxis(g, -5, 5), valueAxis(g, -5, 5));
addSeries({ type: 'custom', clip: true, data: quiverData,
  renderItem: function (params, api) {
    var x = api.value(0), y = api.value(1);
    var p = api.coord([x, y]), q = api.coord([x + api.value(2) / quiverScale, y + api.value(3) / quiverScale]);
    var dx = q[0] - p[0], dy = q[1] - p[1], L = Math.sqrt(dx * dx + dy * dy);
    if (L < 0.01) return;
    var w = 1.4, hl = 5 * w, hal = 4.5 * w, hw = 3 * w;
    var s = L < hl ? L / hl : 1;
    w *= s; hl *= s; hal *= s; hw *= s;
    var cx = dx / L, cy = dy / L;
    function T(a, b) { return [p[0] + cx * a - cy * b, p[1] + cy * a + cx * b]; }
    return { type: 'polygon',
      shape: { points: [T(0, -w / 2), T(L - hal, -w / 2), T(L - hl, -hw / 2), T(L, 0), T(L - hl, hw / 2), T(L - hal, w / 2), T(0, w / 2)] },
      style: { fill: C0 } };
  } }, g);

// streamplot(X, Y, U, V): level lines of the field, thinned with an occupancy mask
function streamRuns() {
  var eps = 1e-6, N = 26, lo = fieldAxis[0], span = fieldAxis[fieldAxis.length - 1] - fieldAxis[0];
  var F = fieldZ.map(function (row) { return row.map(function (v) { return Math.asinh(v / eps); }); });
  var lv = streamLevels.slice().sort(function (a, b) { return Math.abs(b) - Math.abs(a); });
  var owner = [];
  for (var c = 0; c < N * N; c++) owner.push(-1);
  function cellOf(x, y) {
    var cx = Math.min(N - 1, Math.max(0, Math.floor((x - lo) / span * N)));
    var cy = Math.min(N - 1, Math.max(0, Math.floor((y - lo) / span * N)));
    return cy * N + cx;
  }
  function runLength(r) {
    var s = 0;
    for (var i = 1; i < r.length; i++) s += Math.hypot(r[i][0] - r[i - 1][0], r[i][1] - r[i - 1][1]);
    return s;
  }
  var runs = [], pid = 0;
  lv.forEach(function (L) {
    traceContours(F, fieldAxis, fieldAxis, Math.asinh(L / eps)).forEach(function (path) {
      var id = pid++, run = [], pending = [];
      function finish() {
        if (run.length > 1 && runLength(run) > 0.45) {
          runs.push(run);
          pending.forEach(function (ce) { owner[ce] = id; });
        }
        run = []; pending = [];
      }
      for (var k = 1; k < path.pts.length; k++) {
        var a = path.pts[k - 1], b = path.pts[k], blocked = false, cells = [];
        var steps = Math.max(1, Math.ceil(Math.hypot(b[0] - a[0], b[1] - a[1]) / 0.04));
        for (var s = 0; s <= steps; s++) {
          var ce = cellOf(a[0] + (b[0] - a[0]) * s / steps, a[1] + (b[1] - a[1]) * s / steps);
          if (owner[ce] !== -1 && owner[ce] !== id) { blocked = true; break; }
          cells.push(ce);
        }
        if (blocked) { finish(); continue; }
        pending = pending.concat(cells);
        if (run.length === 0) run.push(a);
        run.push(b);
      }
      finish();
    });
  });
  return runs;
}
var streamLines = streamRuns();
g = panel(cardsBig[6], true, 'streamplot(X, Y, U, V)');
addAxes(valueAxis(g, -3, 3), valueAxis(g, -3, 3));
addSeries({ type: 'custom', clip: true,
  data: streamLines.map(function (r) { return r[0]; }),
  renderItem: function (params, api) {
    var run = streamLines[params.dataIndex];
    var px = run.map(function (p) { return api.coord(p); });
    var kids = [{ type: 'polyline', shape: { points: px, smooth: 0.3 }, style: { fill: 'none', stroke: C0, lineWidth: 0.9 } }];
    var cum = [0];
    for (var i = 1; i < px.length; i++) cum.push(cum[i - 1] + Math.hypot(px[i][0] - px[i - 1][0], px[i][1] - px[i - 1][1]));
    var total = cum[cum.length - 1];
    if (total > 20) {
      var m = 1;
      while (m < px.length - 1 && cum[m] < total / 2) m++;
      var ax = px[m][0] - px[m - 1][0], ay = px[m][1] - px[m - 1][1], al = Math.hypot(ax, ay) || 1;
      ax /= al; ay /= al;
      var t = (total / 2 - cum[m - 1]) / ((cum[m] - cum[m - 1]) || 1);
      var c = [px[m - 1][0] + (px[m][0] - px[m - 1][0]) * t, px[m - 1][1] + (px[m][1] - px[m - 1][1]) * t];
      kids.push({ type: 'polygon', shape: { points: [
        [c[0] + ax * 2.4, c[1] + ay * 2.4],
        [c[0] - ax * 1.8 - ay * 1.9, c[1] - ay * 1.8 + ax * 1.9],
        [c[0] - ax * 1.8 + ay * 1.9, c[1] - ay * 1.8 - ax * 1.9]] }, style: { fill: C0 } });
    }
    return { type: 'group', children: kids };
  } }, g);

var chart = echarts.init(document.getElementById('main'));
chart.setOption(option);
</script>
</body>
</html>
